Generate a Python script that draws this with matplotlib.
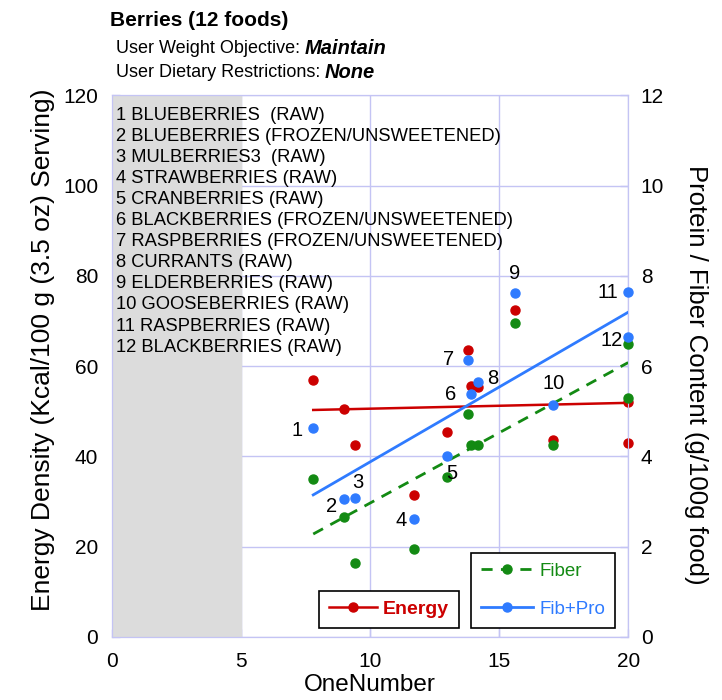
import matplotlib
matplotlib.use('Agg')
import matplotlib.pyplot as plt
import numpy as np
from matplotlib.lines import Line2D

plt.rcParams['font.family'] = ['Liberation Sans', 'DejaVu Sans']

# Food data
foods = ['BLUEBERRIES  (RAW)', 'BLUEBERRIES (FROZEN/UNSWEETENED)', 'MULBERRIES3  (RAW)',
         'STRAWBERRIES (RAW)', 'CRANBERRIES (RAW)', 'BLACKBERRIES (FROZEN/UNSWEETENED)',
         'RASPBERRIES (FROZEN/UNSWEETENED)', 'CURRANTS (RAW)', 'ELDERBERRIES (RAW)',
         'GOOSEBERRIES (RAW)', 'RASPBERRIES (RAW)', 'BLACKBERRIES (RAW)']
one_number = [7.8, 9.0, 9.4, 11.7, 13.0, 13.9, 13.8, 14.2, 15.6, 17.1, 20.0, 20.0]
energy = [57, 50.5, 42.5, 31.5, 45.5, 55.6, 63.5, 55.4, 72.5, 43.7, 52, 43]
fiber = [3.5, 2.65, 1.65, 1.94, 3.55, 4.25, 4.95, 4.25, 6.96, 4.25, 6.5, 5.3]
fib_pro = [4.63, 3.06, 3.08, 2.62, 4.01, 5.39, 6.13, 5.64, 7.61, 5.14, 7.65, 6.65]

# label offsets (pixels) for the point numbers
lbl_off = [(-16, -3), (-13, -8), (3, 15), (-13, -2), (4, -18), (-20, -1),
           (-20, 1), (14, 4), (0, 20), (0, 21), (-20, -1), (-17, -4)]

red = '#cc0000'
green = '#138a13'
blue = '#2f7bff'
grid_c = '#c4c4f4'

fig = plt.figure(figsize=(7.22, 7.00), dpi=100)
ax = fig.add_axes([0.155, 0.09, 0.715, 0.774])
ax2 = ax.twinx()

x = np.array(one_number)
ax.set_xlim(0, 20)
ax.set_ylim(0, 120)
ax2.set_ylim(0, 12)
ax.set_xticks([0, 5, 10, 15, 20])
ax.set_yticks(range(0, 121, 20))
ax2.set_yticks(range(0, 13, 2))

ax.grid(True, color=grid_c, lw=1)
ax.set_axisbelow(True)
ax.axvspan(0, 5, color='#dcdcdc', zorder=1.5)
for a in (ax, ax2):
    for s in a.spines.values():
        s.set_color(grid_c)
    a.tick_params(colors='black', labelsize=15, length=6, direction='in', width=1)
    a.tick_params(color=grid_c)
ax.tick_params(axis='y', pad=10)
ax.tick_params(axis='x', pad=11)
ax2.tick_params(axis='y', pad=9)

# trend lines
xs = np.array([x.min(), x.max()])
pe = np.polyfit(x, energy, 1)
ax.plot(xs, np.polyval(pe, xs), color=red, lw=1.8, zorder=3)
pf = np.polyfit(x, fiber, 1)
ax2.plot(xs, np.polyval(pf, xs), color=green, lw=2, ls=(0, (4, 3)), zorder=3)
pb = np.polyfit(x, fib_pro, 1)
ax2.plot(xs, np.polyval(pb, xs), color=blue, lw=2, zorder=3)

ax.plot(x, energy, 'o', color=red, ms=6.5, zorder=4, clip_on=False)
ax2.plot(x, fiber, 'o', color=green, ms=6.5, zorder=4, clip_on=False)
ax2.plot(x, fib_pro, 'o', color=blue, ms=6.5, zorder=4, clip_on=False)

for i in range(len(x)):
    ax2.annotate(str(i + 1), (x[i], fib_pro[i]), xytext=lbl_off[i], textcoords='offset pixels',
                 ha='center', va='center', fontsize=14.5, zorder=5)

# list of foods
for i, f in enumerate(foods):
    ax.text(0.008, 0.962 - i * 0.0388, f'{i + 1} {f}', transform=ax.transAxes,
            fontsize=13.2, va='center', ha='left', zorder=5)

ax.set_xlabel('OneNumber', fontsize=17.5, labelpad=2)
ax.set_ylabel('Energy Density (Kcal/100 g (3.5 oz) Serving)', fontsize=19)
ax.yaxis.set_label_coords(-0.111, 0.53)
ax2.set_ylabel('Protein / Fiber Content (g/100g food)', fontsize=18.5, rotation=270,
               va='center')
ax2.yaxis.set_label_coords(1.132, 0.483)

fig.text(0.152, 0.971, 'Berries (12 foods)', fontsize=15, fontweight='bold', va='center')

# header lines: plain part followed by bold italic value
fig.canvas.draw()
r = fig.canvas.get_renderer()
for yy, a_txt, b_txt in [(0.931, 'User Weight Objective: ', 'Maintain'),
                         (0.896, 'User Dietary Restrictions: ', 'None')]:
    t = fig.text(0.160, yy, a_txt, fontsize=13, va='center')
    bb = t.get_window_extent(r)
    fig.text(bb.x1 / fig.bbox.width, yy, b_txt, fontsize=14.5, fontweight='bold',
             style='italic', va='center')

# legends
h_f = [Line2D([], [], color=green, lw=2, ls=(0, (4, 3)), marker='o', ms=6.5),
       Line2D([], [], color=blue, lw=2, marker='o', ms=6.5)]
leg2 = ax2.legend(h_f, ['Fiber', 'Fib+Pro'], loc='lower right', bbox_to_anchor=(0.975, 0.0166),
                  fancybox=False, edgecolor='black', framealpha=1, fontsize=13.5,
                  handlelength=2.8, handletextpad=0.3, borderpad=0.55, labelspacing=1.1,
                  numpoints=1, borderaxespad=0)
leg2.get_frame().set_linewidth(1.2)
leg2.get_texts()[0].set_color(green)
leg2.get_texts()[1].set_color(blue)
ax2.add_artist(leg2)

h_e = [Line2D([], [], color=red, lw=1.8, marker='o', ms=6.5)]
leg1 = ax2.legend(h_e, ['Energy'], loc='lower left', bbox_to_anchor=(0.401, 0.0166),
                  fancybox=False, edgecolor='black', framealpha=1, fontsize=14,
                  handlelength=2.5, handletextpad=0.3, borderpad=0.5, numpoints=1,
                  borderaxespad=0)
leg1.get_frame().set_linewidth(1.2)
leg1.get_texts()[0].set_color(red)
leg1.get_texts()[0].set_fontweight('bold')

fig.savefig('out.png', dpi=100)
